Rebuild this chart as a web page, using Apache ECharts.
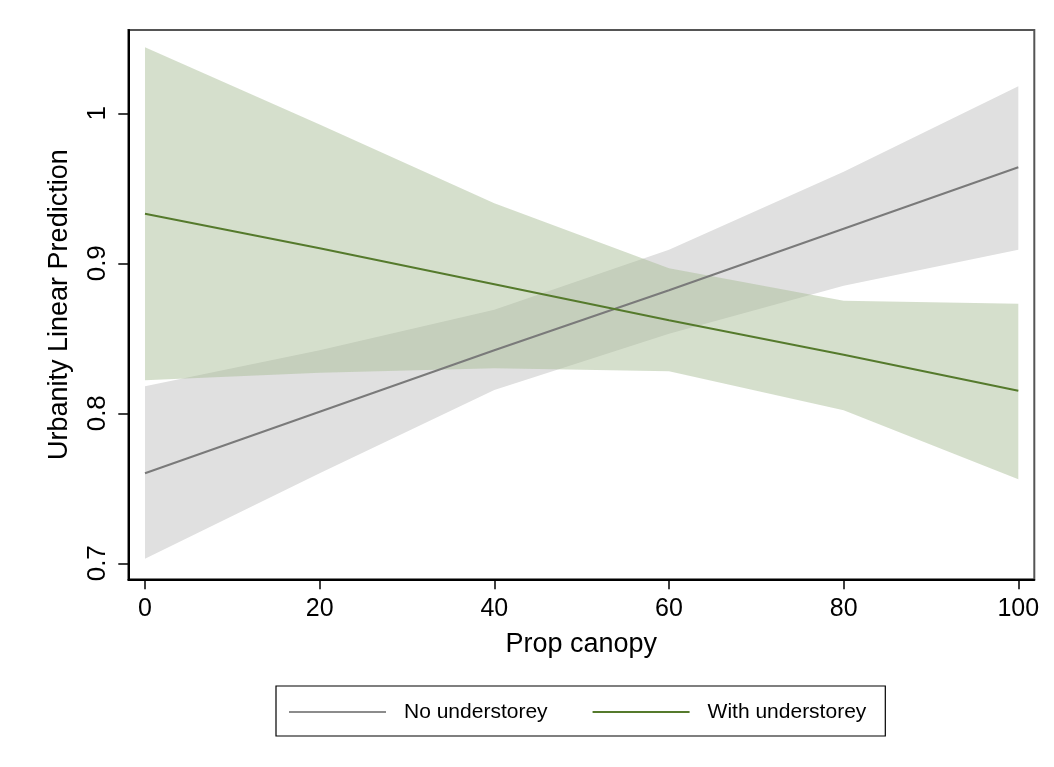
<!DOCTYPE html>
<html>
<head>
<meta charset="utf-8">
<script src="https://cdn.jsdelivr.net/npm/echarts@6/dist/echarts.min.js"></script>
<style>html,body{margin:0;padding:0;background:#fff}#c{width:1054px;height:767px}</style>
</head>
<body>
<div id="c"></div>
<script>
// ---- data ----
var canopy = [0, 20, 40, 60, 80, 100];
var noUnderFit   = [0.760, 0.801, 0.842, 0.882, 0.923, 0.964];
var noUnderLow   = [0.703, 0.760, 0.8155, 0.853, 0.885, 0.909];
var noUnderHigh  = [0.818, 0.842, 0.869, 0.909, 0.961, 1.018];
var withUnderFit  = [0.933, 0.910, 0.886, 0.862, 0.839, 0.815];
var withUnderLow  = [0.822, 0.827, 0.830, 0.828, 0.802, 0.756];
var withUnderHigh = [1.044, 0.9925, 0.940, 0.8967, 0.875, 0.873];
var xTicks = [0, 20, 40, 60, 80, 100];
var yTicks = [0.7, 0.8, 0.9, 1];
var seriesNames = ['No understorey', 'With understorey'];

function pairs(xs, ys) { return xs.map(function (x, i) { return [x, ys[i]]; }); }

function bandSeries(low, high, fill) {
  return {
    type: 'custom',
    silent: true,
    clip: true,
    z: 1,
    data: [0],
    renderItem: function (params, api) {
      var pts = [];
      for (var i = 0; i < canopy.length; i++) pts.push(api.coord([canopy[i], high[i]]));
      for (var j = canopy.length - 1; j >= 0; j--) pts.push(api.coord([canopy[j], low[j]]));
      return { type: 'polygon', shape: { points: pts }, style: { fill: fill } };
    }
  };
}

var chart = echarts.init(document.getElementById('c'), null, { renderer: 'canvas' });
var font = 'Liberation Sans, Arial, sans-serif';
chart.setOption({
  backgroundColor: '#ffffff',
  animation: false,
  grid: { left: 128.3, right: 19.7, top: 30, bottom: 187.7, show: true, borderColor: '#555', borderWidth: 2 },
  xAxis: {
    type: 'value', min: -1.91, max: 101.83,
    name: 'Prop canopy', nameLocation: 'middle', nameGap: 52,
    nameTextStyle: { fontSize: 27, color: '#000', fontFamily: font },
    axisLine: { show: true, onZero: false, lineStyle: { color: '#000', width: 2 } },
    axisTick: { show: true, length: 10, customValues: xTicks, lineStyle: { color: '#000', width: 1.5 } },
    axisLabel: { customValues: xTicks, fontSize: 25, color: '#000', margin: 17, fontFamily: font },
    splitLine: { show: false }
  },
  yAxis: {
    type: 'value', min: 0.6893, max: 1.0555,
    name: 'Urbanity Linear Prediction', nameLocation: 'middle', nameGap: 55, nameRotate: 90,
    nameTextStyle: { fontSize: 27, color: '#000', fontFamily: font },
    axisLine: { show: true, onZero: false, lineStyle: { color: '#000', width: 2 } },
    axisTick: { show: true, length: 10, customValues: yTicks, lineStyle: { color: '#000', width: 1.5 } },
    axisLabel: { customValues: yTicks, rotate: 90, fontSize: 26, color: '#000', margin: 17, fontFamily: font,
      formatter: function (v) { return String(Math.round(v * 10) / 10); } },
    splitLine: { show: false }
  },
  legend: {
    data: [
      { name: seriesNames[0], icon: 'rect', itemStyle: { color: '#8c8c8c' } },
      { name: seriesNames[1], icon: 'rect', itemStyle: { color: '#557a2c' } }
    ],
    left: 276, top: 686,
    orient: 'horizontal',
    itemWidth: 97, itemHeight: 2, itemGap: 45,
    padding: [14, 19, 12, 13],
    borderColor: '#000', borderWidth: 1.2,
    textStyle: { fontSize: 21, color: '#000', fontFamily: font, padding: [0, 0, 0, 13], lineHeight: 24 }
  },
  series: [
    bandSeries(noUnderLow, noUnderHigh, 'rgb(224,224,224)'),
    bandSeries(withUnderLow, withUnderHigh, 'rgba(168,189,148,0.48)'),
    {
      name: seriesNames[0], type: 'line', data: pairs(canopy, noUnderFit), symbol: 'none', z: 3,
      lineStyle: { color: '#7a7a7a', width: 2 }, itemStyle: { color: '#7a7a7a' }
    },
    {
      name: seriesNames[1], type: 'line', data: pairs(canopy, withUnderFit), symbol: 'none', z: 3,
      lineStyle: { color: '#557a2c', width: 2 }, itemStyle: { color: '#557a2c' }
    }
  ]
});
</script>
</body>
</html>
